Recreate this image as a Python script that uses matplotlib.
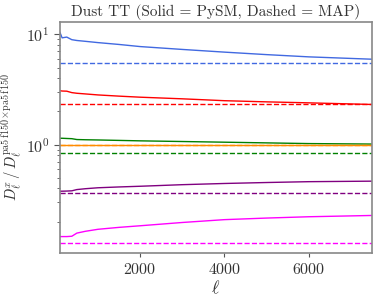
import matplotlib
matplotlib.use("Agg")
import matplotlib.pyplot as plt
import numpy as np

plt.rcParams['font.family'] = 'serif'
plt.rcParams['font.serif'] = ['cmr10']
plt.rcParams['mathtext.fontset'] = 'cm'
plt.rcParams['axes.formatter.use_mathtext'] = True
plt.rcParams['axes.unicode_minus'] = False

# multipole bins
ell = [100, 150, 260, 380, 500, 700, 1000, 1500, 2000, 3000, 4000, 5000, 6000, 7500]

# PySM ratios (solid)
blue_pysm = [10.4, 9.3, 9.45, 8.95, 8.8, 8.65, 8.42, 8.1, 7.75, 7.3, 6.9, 6.55, 6.25, 5.95]
red_pysm = [3.08, 3.06, 3.05, 2.96, 2.92, 2.88, 2.82, 2.75, 2.69, 2.60, 2.50, 2.44, 2.39, 2.31]
green_pysm = [1.14, 1.14, 1.135, 1.13, 1.11, 1.105, 1.10, 1.09, 1.08, 1.065, 1.05, 1.035, 1.02, 1.01]
orange_pysm = [1.0] * 14
purple_pysm = [0.377, 0.377, 0.378, 0.38, 0.39, 0.397, 0.405, 0.412, 0.418, 0.432, 0.443, 0.452, 0.46, 0.465]
magenta_pysm = [0.146, 0.146, 0.146, 0.147, 0.157, 0.163, 0.17, 0.177, 0.183, 0.196, 0.208, 0.215, 0.221, 0.227]

# MAP ratios (dashed, constant)
map_values = [5.45, 2.31, 0.835, 1.0, 0.36, 0.129]
colors = ['royalblue', 'red', 'green', 'darkorange', 'purple', 'magenta']
pysm = [blue_pysm, red_pysm, green_pysm, orange_pysm, purple_pysm, magenta_pysm]

fig = plt.figure(figsize=(3.78, 3.01), dpi=100)
ax = fig.add_axes([60/378, 48/301, 312/378, 231/301])

for c, s, m in zip(colors, pysm, map_values):
    ax.plot(ell, s, color=c, lw=1.0, ls='-')
    ax.plot(ell, [m] * len(ell), color=c, lw=1.0, ls='--')

ax.set_yscale('log')
ax.set_xlim(ell[0], ell[-1])
ax.set_xticks([2000, 4000, 6000])

for sp in ax.spines.values():
    sp.set_color('#888888')
    sp.set_linewidth(1.2)

ax.tick_params(axis='both', which='both', direction='out', colors='#555555',
               labelcolor='#333333', labelsize=11.5, top=False, right=False)
ax.tick_params(axis='y', which='major', length=4)
ax.tick_params(axis='y', which='minor', length=2)
ax.tick_params(axis='x', which='major', length=3)

ax.set_title('Dust TT (Solid = PySM, Dashed = MAP)', fontsize=11, color='#333333', pad=4)
ax.set_xlabel(r'$\ell$', fontsize=13, color='#333333', labelpad=1)
ax.set_ylabel(r'$D_\ell^{x}\,/\,D_\ell^{\rm pa5\,f150\!\times\! pa5\,f150}$', fontsize=10.5,
              color='#333333', labelpad=1)

fig.savefig('out.png', dpi=100)
